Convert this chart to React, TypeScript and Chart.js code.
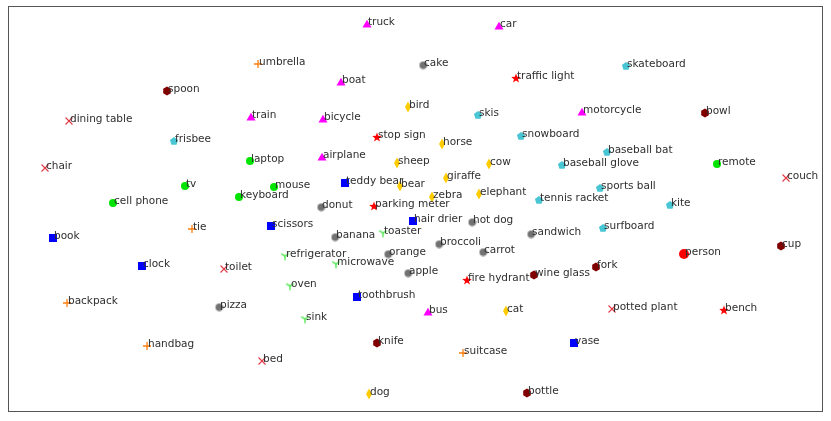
import React, { useEffect, useRef } from "react";
import { Chart, registerables } from "chart.js";

Chart.register(...registerables);

// ---- data (arbitrary embedding units) ----
const personLabels = ["person"];
const personX = [67.6];
const personY = [15.8];

const vehicleLabels = ["bicycle", "car", "motorcycle", "airplane", "bus", "train", "truck", "boat"];
const vehicleX = [31.5, 49.1, 57.4, 31.4, 42.0, 24.3, 35.9, 33.3];
const vehicleY = [29.3, 38.6, 30.0, 25.5, 10.0, 29.5, 38.8, 33.0];

const outdoorLabels = ["traffic light", "fire hydrant", "stop sign", "parking meter", "bench"];
const outdoorX = [50.8, 45.9, 36.9, 36.6, 71.6];
const outdoorY = [33.4, 13.2, 27.5, 20.6, 10.2];

const animalLabels = ["bird", "cat", "dog", "horse", "sheep", "cow", "elephant", "bear", "zebra", "giraffe"];
const animalX = [40.0, 49.8, 36.1, 43.4, 38.9, 48.1, 47.1, 39.2, 42.4, 43.8];
const animalY = [30.5, 10.1, 1.8, 26.8, 24.9, 24.8, 21.8, 22.6, 21.5, 23.4];

const accessoryLabels = ["backpack", "umbrella", "handbag", "tie", "suitcase"];
const accessoryX = [5.9, 25.0, 13.9, 18.4, 45.5];
const accessoryY = [10.9, 34.8, 6.6, 18.3, 5.9];

const sportsLabels = ["frisbee", "skis", "snowboard", "sports ball", "kite", "baseball bat", "baseball glove", "skateboard", "surfboard", "tennis racket"];
const sportsX = [16.6, 47.0, 51.3, 59.2, 66.2, 59.9, 55.4, 61.8, 59.5, 53.1];
const sportsY = [27.1, 29.7, 27.6, 22.4, 20.7, 26.0, 24.7, 34.6, 18.4, 21.2];

const kitchenLabels = ["bottle", "wine glass", "cup", "fork", "knife", "spoon", "bowl"];
const kitchenX = [51.9, 52.6, 77.3, 58.8, 36.9, 15.9, 69.7];
const kitchenY = [1.9, 13.7, 16.6, 14.5, 6.9, 32.1, 29.9];

const foodLabels = ["banana", "apple", "sandwich", "orange", "broccoli", "carrot", "hot dog", "pizza", "donut", "cake"];
const foodX = [32.7, 40.0, 52.3, 38.0, 43.1, 47.5, 46.4, 21.1, 31.3, 41.5];
const foodY = [17.5, 13.9, 17.8, 15.8, 16.8, 16.0, 19.0, 10.5, 20.5, 34.7];

const furnitureLabels = ["chair", "couch", "potted plant", "bed", "dining table", "toilet"];
const furnitureX = [3.7, 77.8, 60.4, 25.4, 6.1, 21.6];
const furnitureY = [24.4, 23.4, 10.3, 5.1, 29.1, 14.3];

const electronicLabels = ["tv", "laptop", "mouse", "remote", "keyboard", "cell phone"];
const electronicX = [17.7, 24.2, 26.6, 70.9, 23.1, 10.5];
const electronicY = [22.6, 25.1, 22.5, 24.8, 21.5, 20.9];

const applianceLabels = ["microwave", "oven", "toaster", "sink", "refrigerator"];
const applianceX = [32.8, 28.2, 37.5, 29.7, 27.7];
const applianceY = [14.8, 12.6, 17.9, 9.3, 15.6];

const indoorLabels = ["book", "clock", "vase", "scissors", "teddy bear", "hair drier", "toothbrush"];
const indoorX = [4.5, 13.4, 56.6, 26.3, 33.7, 40.5, 34.9];
const indoorY = [17.4, 14.6, 6.9, 18.6, 22.9, 19.1, 11.5];

const X_MIN = 0;
const X_MAX = 81.5;
const Y_MIN = 0;
const Y_MAX = 40.6;

// ---- marker images ----
function marker(w: number, h: number, draw: (c: CanvasRenderingContext2D, w: number, h: number) => void) {
  const cv = document.createElement("canvas");
  cv.width = w;
  cv.height = h;
  const c = cv.getContext("2d")!;
  draw(c, w, h);
  return cv;
}

function poly(c: CanvasRenderingContext2D, cx: number, cy: number, r: number, n: number, rot: number, color: string) {
  c.beginPath();
  for (let i = 0; i < n; i++) {
    const a = rot + (i * 2 * Math.PI) / n;
    const px = cx + r * Math.cos(a);
    const py = cy + r * Math.sin(a);
    if (i === 0) c.moveTo(px, py);
    else c.lineTo(px, py);
  }
  c.closePath();
  c.fillStyle = color;
  c.fill();
}

function makeMarkers() {
  const circle = (d: number, color: string) =>
    marker(d + 2, d + 2, (c, w, h) => {
      c.beginPath();
      c.arc(w / 2, h / 2, d / 2, 0, Math.PI * 2);
      c.fillStyle = color;
      c.fill();
    });
  return {
    person: circle(10, "#ff0000"),
    electronic: circle(8, "#00e400"),
    food: circle(7.5, "#727272"),
    kitchen: marker(10, 10, (c, w, h) => poly(c, w / 2, h / 2, 4.4, 6, -Math.PI / 2, "#800000")),
    sports: marker(10, 10, (c, w, h) => poly(c, w / 2, h / 2 + 0.3, 4.3, 5, -Math.PI / 2, "#48c6d4")),
    vehicle: marker(12, 12, (c, w, h) => poly(c, w / 2, h / 2 + 1, 5.2, 3, -Math.PI / 2, "#ff00ff")),
    indoor: marker(10, 10, (c) => {
      c.fillStyle = "#0000ff";
      c.fillRect(1, 1, 8, 8);
    }),
    animal: marker(8, 12, (c, w, h) => {
      c.beginPath();
      c.moveTo(w / 2, 0.5);
      c.lineTo(w - 1, h / 2);
      c.lineTo(w / 2, h - 0.5);
      c.lineTo(1, h / 2);
      c.closePath();
      c.fillStyle = "#ffcc00";
      c.fill();
    }),
    outdoor: marker(12, 12, (c, w, h) => {
      c.beginPath();
      for (let i = 0; i < 10; i++) {
        const r = i % 2 === 0 ? 5 : 2.1;
        const a = -Math.PI / 2 + (i * Math.PI) / 5;
        const px = w / 2 + r * Math.cos(a);
        const py = h / 2 + 0.5 + r * Math.sin(a);
        if (i === 0) c.moveTo(px, py);
        else c.lineTo(px, py);
      }
      c.closePath();
      c.fillStyle = "#ff0000";
      c.fill();
    }),
    accessory: marker(10, 10, (c, w, h) => {
      c.strokeStyle = "#ff7f0e";
      c.lineWidth = 1.3;
      c.beginPath();
      c.moveTo(1, h / 2);
      c.lineTo(w - 1, h / 2);
      c.moveTo(w / 2, 1);
      c.lineTo(w / 2, h - 1);
      c.stroke();
    }),
    furniture: marker(10, 10, (c, w, h) => {
      c.strokeStyle = "#e23a45";
      c.lineWidth = 1.1;
      c.beginPath();
      c.moveTo(1.5, 1.5);
      c.lineTo(w - 1.5, h - 1.5);
      c.moveTo(w - 1.5, 1.5);
      c.lineTo(1.5, h - 1.5);
      c.stroke();
    }),
    appliance: marker(11, 11, (c, w, h) => {
      const cx = w / 2;
      const cy = h / 2;
      const r = 4.3;
      c.strokeStyle = "#1fe01f";
      c.lineWidth = 1.1;
      c.beginPath();
      c.moveTo(cx, cy);
      c.lineTo(cx, cy + r);
      c.moveTo(cx, cy);
      c.lineTo(cx - r * 0.87, cy - r * 0.5);
      c.moveTo(cx, cy);
      c.lineTo(cx + r * 0.87, cy - r * 0.5);
      c.stroke();
    }),
  };
}

const labelPlugin = {
  id: "pointLabels",
  afterDatasetsDraw(chart: any) {
    const ctx = chart.ctx;
    ctx.save();
    ctx.font = '10.5px "DejaVu Sans"';
    ctx.fillStyle = "#2e2e2e";
    ctx.textAlign = "left";
    ctx.textBaseline = "alphabetic";
    chart.data.datasets.forEach((ds: any, i: number) => {
      const meta = chart.getDatasetMeta(i);
      meta.data.forEach((pt: any, j: number) => {
        ctx.fillText(ds.names[j], pt.x + 1, pt.y + 1);
      });
    });
    ctx.restore();
  },
};

const framePlugin = {
  id: "frame",
  afterDraw(chart: any) {
    const { left, top, right, bottom } = chart.chartArea;
    const ctx = chart.ctx;
    ctx.save();
    ctx.strokeStyle = "#555555";
    ctx.lineWidth = 1;
    ctx.strokeRect(Math.round(left) + 0.5, Math.round(top) + 0.5, Math.round(right - left) - 1, Math.round(bottom - top) - 1);
    ctx.restore();
  },
};

export default function App() {
  const ref = useRef<HTMLCanvasElement | null>(null);

  useEffect(() => {
    if (!ref.current) return;
    const m = makeMarkers();
    const groups: [string, string[], number[], number[]][] = [
      ["person", personLabels, personX, personY],
      ["vehicle", vehicleLabels, vehicleX, vehicleY],
      ["outdoor", outdoorLabels, outdoorX, outdoorY],
      ["animal", animalLabels, animalX, animalY],
      ["accessory", accessoryLabels, accessoryX, accessoryY],
      ["sports", sportsLabels, sportsX, sportsY],
      ["kitchen", kitchenLabels, kitchenX, kitchenY],
      ["food", foodLabels, foodX, foodY],
      ["furniture", furnitureLabels, furnitureX, furnitureY],
      ["electronic", electronicLabels, electronicX, electronicY],
      ["appliance", applianceLabels, applianceX, applianceY],
      ["indoor", indoorLabels, indoorX, indoorY],
    ];
    const datasets = groups.map(([key, names, xs, ys]) => ({
      label: key,
      names,
      data: xs.map((x, i) => ({ x, y: ys[i] })),
      pointStyle: (m as any)[key],
      pointRadius: 5,
      pointHoverRadius: 5,
      showLine: false,
    }));
    const chart = new Chart(ref.current, {
      type: "scatter",
      data: { datasets: datasets as any },
      options: {
        animation: false,
        responsive: false,
        events: [],
        layout: { padding: { left: 8, top: 6, right: 8, bottom: 9 } },
        plugins: { legend: { display: false }, tooltip: { enabled: false } },
        scales: {
          x: { type: "linear", display: false, min: X_MIN, max: X_MAX },
          y: { type: "linear", display: false, min: Y_MIN, max: Y_MAX },
        },
        clip: false as any,
      },
      plugins: [labelPlugin, framePlugin],
    });
    return () => chart.destroy();
  }, []);

  return (
    <div style={{ position: "fixed", left: 0, top: 0, width: 831, height: 421, background: "#ffffff" }}>
      <canvas ref={ref} width={831} height={421} style={{ width: 831, height: 421, display: "block" }} />
    </div>
  );
}
